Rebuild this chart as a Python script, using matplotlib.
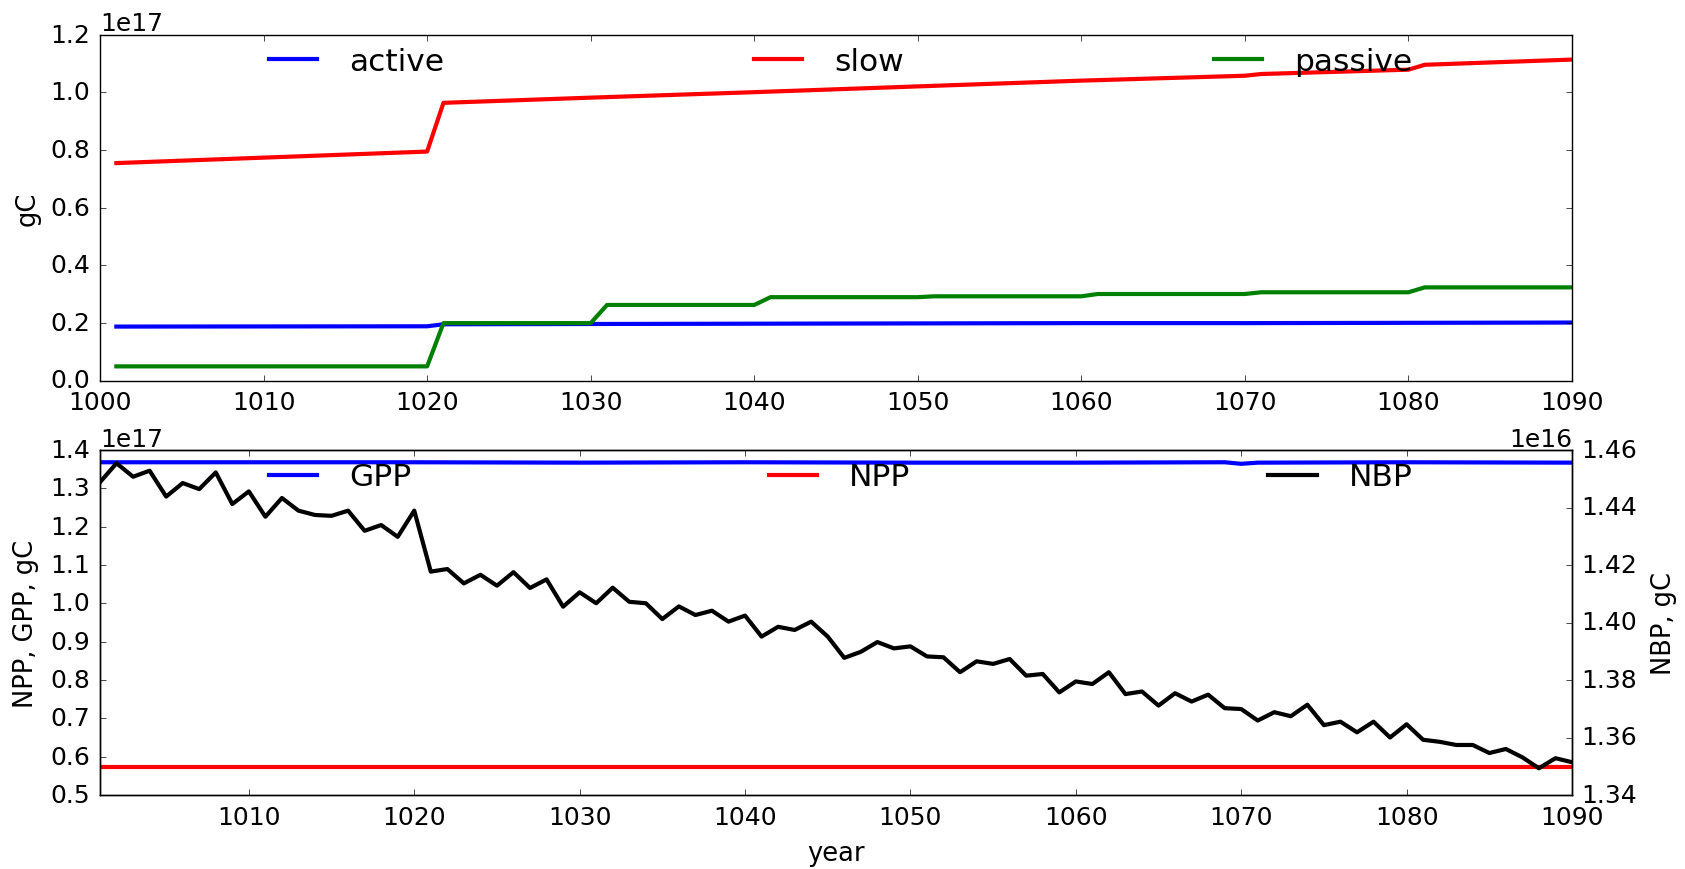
import numpy as np
import matplotlib
matplotlib.use('Agg')
from matplotlib import pyplot as plt

plt.style.use('classic')

# --- soil pools (top panel), values in 1e17 gC, read at break points ---
active_years = [1001, 1020, 1021, 1030, 1040, 1050, 1060, 1070, 1080, 1090]
active = [0.187, 0.188, 0.195, 0.196, 0.197, 0.198, 0.199, 0.199, 0.200, 0.201]

slow_years = [1001, 1020, 1021, 1030, 1040, 1050, 1060, 1070, 1071, 1080, 1081, 1090]
slow = [0.754, 0.794, 0.963, 0.981, 1.000, 1.020, 1.040, 1.057, 1.063, 1.078, 1.095, 1.113]

passive_years = [1001, 1020, 1021, 1030, 1031, 1040, 1041, 1050, 1051, 1060,
                 1061, 1070, 1071, 1080, 1081, 1090]
passive = [0.049, 0.049, 0.199, 0.199, 0.262, 0.262, 0.289, 0.289, 0.292, 0.292,
           0.300, 0.300, 0.306, 0.306, 0.323, 0.323]

# --- fluxes (bottom panel) ---
gpp_years = [1001, 1010, 1020, 1030, 1040, 1050, 1060, 1069, 1070, 1071, 1080, 1090]
gpp = [1.368, 1.368, 1.368, 1.367, 1.368, 1.367, 1.367, 1.368, 1.364, 1.367, 1.368, 1.367]  # 1e17

npp_years = [1001, 1030, 1060, 1090]
npp = [0.572, 0.572, 0.572, 0.572]  # 1e17

nbp_years = np.arange(1001, 1091)
nbp = [1.4488, 1.4554, 1.4507, 1.4528, 1.4438, 1.4485, 1.4464, 1.4522, 1.4412, 1.4456,
       1.4368, 1.4433, 1.4389, 1.4374, 1.4371, 1.4389, 1.4319, 1.4339, 1.4298, 1.4389,
       1.4177, 1.4186, 1.4136, 1.4166, 1.4128, 1.4175, 1.4120, 1.4150, 1.4055, 1.4105,
       1.4067, 1.4121, 1.4072, 1.4067, 1.4012, 1.4056, 1.4026, 1.4041, 1.4003, 1.4024,
       1.3951, 1.3985, 1.3974, 1.4003, 1.3951, 1.3877, 1.3898, 1.3932, 1.3910, 1.3917,
       1.3882, 1.3879, 1.3827, 1.3865, 1.3856, 1.3873, 1.3815, 1.3821, 1.3757, 1.3795,
       1.3786, 1.3827, 1.3751, 1.3760, 1.3711, 1.3754, 1.3725, 1.3749, 1.3702, 1.3699,
       1.3659, 1.3688, 1.3674, 1.3714, 1.3643, 1.3655, 1.3618, 1.3655, 1.3600, 1.3646,
       1.3592, 1.3585, 1.3574, 1.3574, 1.3546, 1.3560, 1.3531, 1.3493, 1.3528, 1.3514]  # 1e16

tick_fs = 18
label_fs = 18.5
leg_fs = 22.5
lw = 3

fig = plt.figure(figsize=(16.85, 8.7), dpi=100, facecolor='white')
ax1 = fig.add_axes([100 / 1685, 1 - 381.5 / 870, 1472 / 1685, 346 / 870])
ax2 = fig.add_axes([100 / 1685, 1 - 796 / 870, 1472 / 1685, 345 / 870])
ax3 = ax2.twinx()

leg_kw = dict(loc='upper center', bbox_to_anchor=(0.1, 0., 0.8, 1.0), mode='expand',
              ncol=3, frameon=False, fontsize=leg_fs, handlelength=2.14,
              handletextpad=0.72, borderaxespad=0.)

# top panel
ax1.plot(active_years, np.array(active) * 1e17, color='b', lw=lw, label='active')
ax1.plot(slow_years, np.array(slow) * 1e17, color='r', lw=lw, label='slow')
ax1.plot(passive_years, np.array(passive) * 1e17, color='g', lw=lw, label='passive')
ax1.set_xlim(1000, 1090)
ax1.set_ylim(0, 1.2e17)
ax1.set_xticks(np.arange(1000, 1091, 10))
ax1.set_yticks(np.arange(0, 1.21e17, 0.2e17))
ax1.ticklabel_format(axis='x', useOffset=False)
ax1.set_ylabel('gC', fontsize=label_fs, labelpad=7)
ax1.tick_params(labelsize=tick_fs, pad=7)
ax1.yaxis.get_offset_text().set_fontsize(tick_fs)
ax1.legend(**leg_kw)

# bottom panel
l1, = ax2.plot(gpp_years, np.array(gpp) * 1e17, color='b', lw=lw, label='GPP')
l2, = ax2.plot(npp_years, np.array(npp) * 1e17, color='r', lw=lw, label='NPP')
l3, = ax3.plot(nbp_years, np.array(nbp) * 1e16, color='k', lw=lw, label='NBP')
ax2.set_xlim(1001, 1090)
ax2.set_ylim(0.5e17, 1.4e17)
ax2.set_yticks(np.arange(0.5e17, 1.41e17, 0.1e17))
ax3.set_ylim(1.34e16, 1.46e16)
ax3.set_yticks(np.arange(1.34e16, 1.461e16, 0.02e16))
ax2.set_xticks(np.arange(1010, 1091, 10))
ax2.ticklabel_format(axis='x', useOffset=False)
ax2.set_xlabel('year', fontsize=label_fs, labelpad=8)
ax2.set_ylabel('NPP, GPP, gC', fontsize=label_fs, labelpad=8)
ax3.set_ylabel('NBP, gC', fontsize=label_fs, labelpad=10)
ax2.tick_params(labelsize=tick_fs, pad=7)
ax3.tick_params(labelsize=tick_fs, pad=7)
ax2.yaxis.get_offset_text().set_fontsize(tick_fs)
ax3.yaxis.get_offset_text().set_fontsize(tick_fs)
ax3.legend(handles=[l1, l2, l3], **leg_kw)

fig.savefig('out.png', dpi=100, facecolor='white')
